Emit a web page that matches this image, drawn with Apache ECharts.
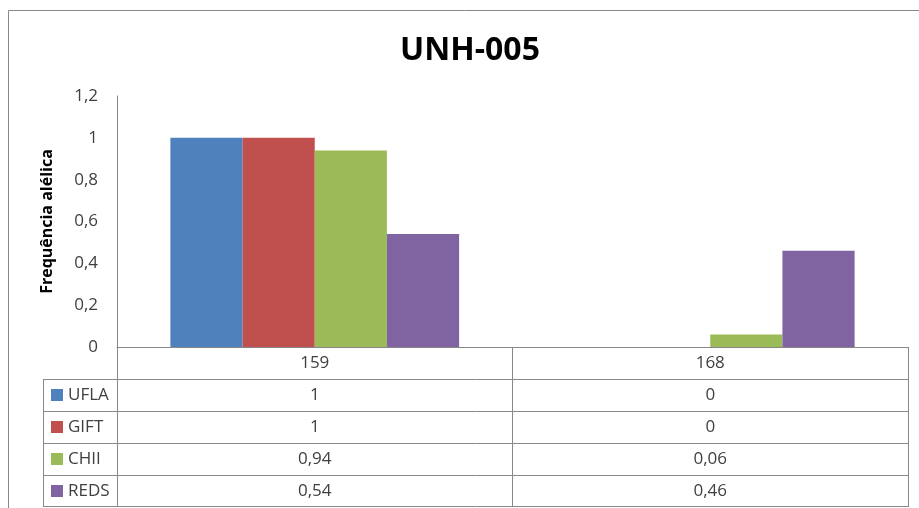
<!DOCTYPE html>
<html>
<head>
<meta charset="utf-8">
<script src="https://cdn.jsdelivr.net/npm/echarts@6/dist/echarts.min.js"></script>
<style>
  html, body { margin: 0; padding: 0; background: #fff; }
  #chart { width: 919px; height: 508px; }
</style>
</head>
<body>
<div id="chart"></div>
<script>
// Allele categories (x axis) and allele frequencies per population
const categories = ['159', '168'];
const seriesNames = ['UFLA', 'GIFT', 'CHII', 'REDS'];
const ufla = [1, 0];
const gift = [1, 0];
const chii = [0.94, 0.06];
const reds = [0.54, 0.46];
const seriesValues = [ufla, gift, chii, reds];
const colors = ['#4F81BD', '#C0504D', '#9BBB59', '#8064A2'];

const FONT = '"Open Sans", sans-serif';
const LINE = '#888888';
const TEXT = '#404040';
const FS = 17;

// Decimal comma, as in pt-BR
const fmt = v => String(+(+v).toFixed(2)).replace('.', ',');

const chart = echarts.init(document.getElementById('chart'));

const grid = { left: 117, top: 96, right: 11, bottom: 161 };
const rowH = 32;          // height of each data-table row
const tableLeft = 43;     // left edge of the legend column

chart.setOption({
  animation: false,
  backgroundColor: '#fff',
  textStyle: { fontFamily: FONT },
  title: {
    text: 'UNH-005',
    left: 465,
    top: 30,
    textAlign: 'center',
    textStyle: { fontFamily: FONT, fontWeight: 'bold', fontSize: 32, color: '#000' }
  },
  grid: grid,
  xAxis: {
    type: 'category',
    data: categories,
    axisLine: { show: true, lineStyle: { color: LINE, width: 1 } },
    axisTick: { show: true, length: rowH * 5, lineStyle: { color: LINE, width: 1 } },
    axisLabel: {
      margin: 0, lineHeight: rowH, fontSize: FS, color: TEXT, fontFamily: FONT
    }
  },
  yAxis: {
    type: 'value',
    min: 0, max: 1.2, interval: 0.2,
    name: 'Frequência alélica',
    nameLocation: 'middle',
    nameGap: 62,
    nameTextStyle: { fontFamily: FONT, fontWeight: 'bold', fontSize: 16, color: '#000' },
    axisLine: { show: true, lineStyle: { color: LINE, width: 1 } },
    axisTick: { show: false },
    splitLine: { show: false },
    axisLabel: { margin: 19, fontSize: FS, color: TEXT, fontFamily: FONT, formatter: fmt }
  },
  series: seriesNames.map((name, i) => ({
    name: name,
    type: 'bar',
    data: seriesValues[i],
    barGap: 0,
    barCategoryGap: '27%',
    itemStyle: { color: colors[i] }
  }))
});

// Data table below the plot: legend keys, row lines and values
const zeroY = chart.convertToPixel({ yAxisIndex: 0 }, 0);
const plotRight = 919 - grid.right;
const graphic = [];

// Outer chart-area border
graphic.push({
  type: 'rect', silent: true,
  shape: { x: 8.5, y: 10.5, width: 1000, height: 1000 },
  style: { fill: null, stroke: LINE, lineWidth: 1 }
});

for (let r = 1; r <= 4; r++) {
  const y = Math.round(zeroY + rowH * r) + 0.5;
  graphic.push({
    type: 'line', silent: true,
    shape: { x1: tableLeft, y1: y, x2: plotRight, y2: y },
    style: { stroke: LINE, lineWidth: 1 }
  });
}
// bottom line of the table
const bottomY = Math.round(zeroY + rowH * 5) - 0.5;
graphic.push({
  type: 'line', silent: true,
  shape: { x1: tableLeft, y1: bottomY, x2: plotRight, y2: bottomY },
  style: { stroke: LINE, lineWidth: 1 }
});
// left edge of the legend column
graphic.push({
  type: 'line', silent: true,
  shape: { x1: tableLeft + 0.5, y1: zeroY + rowH, x2: tableLeft + 0.5, y2: zeroY + rowH * 5 },
  style: { stroke: LINE, lineWidth: 1 }
});

seriesNames.forEach((name, i) => {
  const cy = zeroY + rowH * (i + 1) + rowH / 2;
  graphic.push({
    type: 'rect', silent: true,
    shape: { x: 51, y: Math.round(cy - 6), width: 12, height: 12 },
    style: { fill: colors[i] }
  });
  graphic.push({
    type: 'text', silent: true,
    x: 68, y: cy,
    style: {
      text: name, fill: TEXT, font: FS + 'px ' + FONT,
      textAlign: 'left', textVerticalAlign: 'middle'
    }
  });
  categories.forEach((c, j) => {
    const cx = chart.convertToPixel({ xAxisIndex: 0 }, c);
    graphic.push({
      type: 'text', silent: true,
      x: cx, y: cy,
      style: {
        text: fmt(seriesValues[i][j]), fill: TEXT, font: FS + 'px ' + FONT,
        textAlign: 'center', textVerticalAlign: 'middle'
      }
    });
  });
});

chart.setOption({ graphic: graphic });
</script>
</body>
</html>
